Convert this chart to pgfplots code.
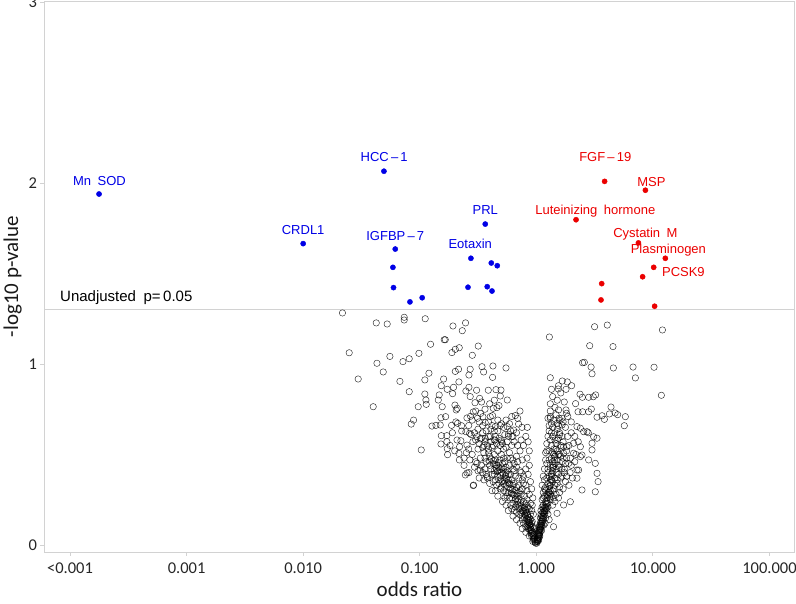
\documentclass[border=0pt]{standalone}
\usepackage{pgfplots}
\pgfplotsset{compat=1.18}
\usepackage{pgfplotstable}
\usepackage{fontspec}
\setmainfont{Liberation Sans}
\newfontfamily\tickfont{Carlito}
\definecolor{sigblue}{RGB}{0,0,230}
\definecolor{sigred}{RGB}{235,0,0}
\definecolor{axgrey}{RGB}{210,210,210}

% x = log10(odds ratio), y = -log10 p
\pgfplotstableread{
x y
-1.663 1.282
-1.373 1.227
-1.279 1.221
-1.133 1.258
-1.133 1.243
-0.953 1.250
-0.715 1.210
-0.607 1.227
-0.635 1.184
-0.790 1.134
-0.781 1.134
-0.907 1.109
-1.605 1.062
-1.256 1.042
-1.367 1.004
-1.144 1.013
-1.090 1.029
-1.007 1.059
-0.724 1.063
-0.695 1.081
-0.661 1.090
-0.549 1.048
-0.498 1.099
-1.528 0.917
-1.313 0.956
-1.170 0.904
-1.090 0.847
-0.956 0.912
-0.921 0.949
-0.695 0.959
-0.667 0.971
-0.578 0.939
-0.567 0.971
-0.466 0.985
-0.452 0.956
-0.372 0.989
-0.260 0.978
-1.399 0.764
-1.013 0.764
-0.947 0.801
-0.944 0.777
-0.956 0.834
-0.833 0.829
-0.841 0.801
-0.815 0.880
-0.795 0.917
-0.764 0.860
-0.710 0.871
-0.718 0.836
-0.664 0.901
-0.578 0.871
-0.604 0.851
-0.567 0.820
-0.512 0.855
-0.526 0.786
-0.486 0.810
-0.412 0.855
-0.375 0.926
-0.346 0.858
-0.303 0.856
-0.309 0.823
-0.249 0.801
-0.369 0.755
-0.338 0.759
-1.053 0.690
-1.073 0.668
-0.807 0.764
-0.818 0.703
-0.778 0.709
-0.895 0.657
-0.861 0.661
-0.824 0.663
-0.987 0.525
-0.698 0.773
-0.678 0.755
-0.687 0.746
-0.727 0.661
-0.675 0.672
-0.641 0.659
-0.595 0.702
-0.564 0.711
-0.541 0.735
-0.504 0.700
-0.478 0.727
-0.458 0.709
-0.438 0.676
-0.395 0.709
-0.375 0.715
-0.352 0.654
-0.300 0.670
-0.249 0.654
-0.180 0.715
-0.152 0.668
-0.123 0.650
-0.077 0.650
-0.240 0.613
-0.209 0.599
-0.195 0.635
-0.815 0.604
-0.767 0.604
-0.818 0.558
-0.767 0.571
-0.764 0.532
-0.761 0.499
-0.658 0.543
-0.664 0.506
-0.604 0.626
-0.572 0.617
-0.647 0.576
-0.595 0.552
-0.544 0.571
-0.509 0.599
-0.481 0.586
-0.438 0.589
-0.395 0.599
-0.355 0.580
-0.300 0.580
-0.609 0.387
-0.578 0.400
-0.541 0.328
-0.423 0.378
-0.481 0.414
-0.509 0.451
-0.595 0.398
-0.538 0.331
-0.02 0.06
-0.03 0.07
-0.04 0.05
-0.05 0.08
-0.03 0.10
-0.06 0.11
-0.04 0.12
-0.07 0.09
-0.08 0.13
-0.05 0.14
-0.09 0.10
-0.10 0.15
-0.06 0.15
-0.02 0.09
-0.035 0.13
-0.11 0.12
-0.12 0.14
-0.07 0.14
-0.015 0.04
-0.025 0.03
-0.01 0.02
-0.005 0.01
-0.045 0.065
-0.055 0.10
-0.065 0.125
-0.05 0.17
-0.08 0.18
-0.10 0.17
-0.12 0.19
-0.07 0.21
-0.13 0.22
-0.15 0.20
-0.09 0.23
-0.11 0.24
-0.16 0.24
-0.06 0.20
-0.14 0.17
-0.18 0.21
-0.04 0.19
-0.20 0.23
-0.17 0.18
-0.10 0.21
-0.12 0.16
-0.08 0.25
-0.05 0.23
-0.22 0.22
-0.15 0.25
-0.13 0.18
-0.19 0.19
-0.09 0.19
-0.10 0.27
-0.13 0.28
-0.16 0.27
-0.18 0.30
-0.20 0.28
-0.22 0.31
-0.24 0.29
-0.12 0.31
-0.15 0.33
-0.19 0.34
-0.26 0.33
-0.28 0.30
-0.08 0.30
-0.21 0.26
-0.25 0.27
-0.30 0.32
-0.17 0.32
-0.23 0.34
-0.06 0.28
-0.14 0.30
-0.32 0.34
-0.11 0.34
-0.27 0.26
-0.20 0.33
-0.35 0.30
-0.29 0.35
-0.09 0.33
-0.15 0.37
-0.18 0.38
-0.21 0.36
-0.24 0.39
-0.27 0.37
-0.30 0.40
-0.33 0.38
-0.36 0.41
-0.20 0.42
-0.23 0.44
-0.26 0.43
-0.29 0.45
-0.32 0.43
-0.38 0.39
-0.40 0.44
-0.13 0.40
-0.17 0.43
-0.35 0.36
-0.42 0.37
-0.11 0.38
-0.25 0.41
-0.31 0.36
-0.44 0.42
-0.19 0.45
-0.09 0.42
-0.37 0.45
-0.28 0.42
-0.46 0.40
-0.22 0.39
-0.34 0.44
-0.20 0.47
-0.25 0.48
-0.30 0.50
-0.35 0.47
-0.40 0.49
-0.45 0.51
-0.28 0.53
-0.33 0.52
-0.38 0.54
-0.43 0.46
-0.48 0.48
-0.50 0.53
-0.23 0.51
-0.17 0.49
-0.14 0.52
-0.42 0.55
-0.36 0.50
-0.27 0.46
-0.55 0.50
-0.52 0.46
-0.31 0.55
-0.46 0.54
-0.12 0.47
-0.21 0.55
-0.58 0.53
-0.62 0.48
-0.60 0.51
-0.30 0.57
-0.36 0.58
-0.41 0.60
-0.46 0.62
-0.52 0.58
-0.27 0.61
-0.33 0.63
-0.39 0.64
-0.25 0.57
-0.44 0.57
-0.20 0.60
-0.17 0.62
-0.50 0.64
-0.56 0.61
-0.13 0.58
-0.35 0.60
-0.01 0.015
-0.02 0.035
-0.03 0.055
-0.04 0.075
-0.05 0.095
-0.06 0.085
-0.045 0.105
-0.07 0.115
-0.08 0.105
-0.085 0.145
-0.095 0.165
-0.11 0.185
-0.125 0.205
-0.135 0.235
-0.145 0.215
-0.16 0.225
-0.175 0.255
-0.165 0.285
-0.185 0.275
-0.205 0.305
-0.215 0.285
-0.235 0.315
-0.245 0.345
-0.225 0.335
-0.255 0.365
-0.275 0.355
-0.265 0.385
-0.285 0.395
-0.305 0.385
-0.315 0.415
-0.295 0.425
-0.335 0.405
-0.345 0.425
-0.325 0.455
-0.355 0.445
-0.365 0.465
-0.385 0.475
-0.405 0.465
-0.62 0.44
-0.66 0.47
-0.70 0.52
-0.68 0.58
-0.64 0.63
-0.72 0.62
-0.74 0.55
-0.69 0.68
-0.58 0.66
-0.55 0.69
-0.52 0.74
-0.49 0.68
-0.46 0.66
-0.43 0.63
-0.41 0.68
-0.38 0.66
-0.36 0.63
-0.33 0.69
-0.31 0.66
-0.28 0.65
-0.26 0.69
-0.23 0.67
-0.21 0.71
-0.16 0.70
-0.14 0.74
-0.44 0.75
-0.40 0.78
-0.36 0.80
-0.32 0.77
-0.47 0.79
-0.53 0.62
-0.49 0.56
-0.47 0.59
-0.45 0.55
-0.41 0.53
-0.39 0.57
-0.37 0.55
-0.34 0.56
-0.32 0.59
-0.29 0.56
-0.26 0.54
-0.24 0.60
-0.22 0.63
-0.19 0.57
-0.16 0.55
-0.11 0.55
-0.09 0.60
-0.07 0.57
-0.06 0.52
-0.08 0.48
-0.06 0.44
-0.07 0.39
-0.05 0.35
-0.04 0.31
-0.03 0.26
-0.035 0.22
-0.025 0.17
-0.57 0.47
-0.53 0.43
-0.50 0.41
-0.47 0.44
-0.44 0.48
-0.41 0.51
-0.39 0.42
-0.36 0.39
-0.33 0.41
-0.31 0.47
-0.28 0.48
-0.26 0.40
-0.24 0.36
-0.22 0.48
-0.19 0.41
-0.16 0.46
-0.14 0.41
-0.12 0.36
-0.15 0.29
-0.18 0.25
-0.21 0.20
-0.23 0.26
-0.26 0.29
-0.28 0.34
-0.31 0.31
-0.34 0.33
-0.37 0.35
-0.40 0.34
-0.43 0.39
-0.45 0.36
-0.49 0.37
-0.38 0.30
-0.33 0.27
-0.29 0.24
-0.26 0.22
-0.24 0.19
-0.20 0.16
-0.17 0.14
-0.14 0.12
-0.12 0.09
-0.09 0.07
-0.06 0.05
-0.03 0.02
-0.012 0.03
-0.022 0.05
-0.028 0.045
-0.038 0.065
-0.042 0.085
-0.052 0.115
-0.058 0.125
-0.062 0.135
-0.072 0.155
-0.076 0.165
-0.088 0.175
-0.092 0.195
-0.105 0.205
0.500 1.206
0.609 1.215
1.082 1.188
0.112 1.149
0.458 1.101
0.658 1.096
0.397 1.007
0.412 1.009
0.470 0.983
0.478 0.946
0.661 0.978
0.830 0.983
1.010 0.982
0.850 0.923
0.120 0.924
0.223 0.906
0.266 0.901
0.303 0.880
0.189 0.862
0.255 0.860
1.073 0.827
0.375 0.833
0.395 0.816
0.449 0.816
0.489 0.819
0.509 0.829
0.337 0.781
0.120 0.740
0.120 0.709
0.191 0.746
0.255 0.746
0.260 0.728
0.358 0.736
0.397 0.736
0.449 0.736
0.472 0.751
0.641 0.762
0.521 0.706
0.564 0.714
0.584 0.694
0.627 0.724
0.676 0.729
0.698 0.720
0.764 0.709
0.195 0.700
0.203 0.687
0.178 0.672
0.221 0.663
0.755 0.659
0.349 0.654
0.378 0.645
0.406 0.626
0.446 0.620
0.492 0.598
0.521 0.590
0.478 0.525
0.449 0.470
0.506 0.451
0.521 0.396
0.530 0.350
0.506 0.294
0.392 0.304
0.349 0.369
0.363 0.414
0.292 0.239
0.234 0.221
0.178 0.175
0.148 0.101
0.320 0.562
0.378 0.543
0.320 0.507
0.392 0.497
0.292 0.479
0.234 0.543
0.435 0.626
0.478 0.562
0.378 0.488
0.263 0.543
0.235 0.506
0.278 0.451
0.349 0.414
0.19 0.66
0.20 0.62
0.22 0.60
0.18 0.58
0.21 0.55
0.17 0.53
0.005 0.01
0.01 0.02
0.015 0.03
0.02 0.05
0.01 0.04
0.025 0.06
0.03 0.08
0.02 0.07
0.035 0.09
0.04 0.10
0.015 0.06
0.03 0.05
0.045 0.08
0.008 0.03
0.03 0.11
0.04 0.13
0.05 0.12
0.06 0.14
0.045 0.16
0.055 0.18
0.07 0.17
0.08 0.15
0.06 0.20
0.09 0.19
0.035 0.15
0.10 0.17
0.075 0.12
0.05 0.15
0.065 0.11
0.11 0.14
0.085 0.20
0.04 0.19
0.06 0.22
0.08 0.24
0.10 0.23
0.12 0.25
0.07 0.27
0.09 0.28
0.11 0.29
0.13 0.27
0.15 0.26
0.05 0.25
0.14 0.22
0.17 0.28
0.10 0.21
0.12 0.30
0.08 0.30
0.16 0.24
0.06 0.29
0.19 0.26
0.115 0.265
0.08 0.32
0.10 0.34
0.12 0.33
0.14 0.35
0.09 0.37
0.11 0.38
0.13 0.39
0.16 0.37
0.18 0.34
0.20 0.32
0.07 0.36
0.15 0.31
0.22 0.38
0.17 0.40
0.10 0.40
0.25 0.35
0.13 0.36
0.19 0.39
0.28 0.33
0.24 0.40
0.10 0.42
0.12 0.44
0.14 0.43
0.16 0.45
0.11 0.47
0.13 0.48
0.15 0.50
0.18 0.47
0.20 0.43
0.22 0.46
0.09 0.45
0.17 0.42
0.26 0.48
0.19 0.50
0.14 0.46
0.30 0.44
0.24 0.42
0.21 0.49
0.11 0.52
0.13 0.55
0.15 0.53
0.17 0.56
0.12 0.58
0.14 0.60
0.16 0.62
0.19 0.59
0.21 0.54
0.10 0.60
0.18 0.64
0.23 0.57
0.14 0.65
0.11 0.63
0.20 0.61
0.26 0.52
0.27 0.60
0.16 0.58
0.13 0.67
0.15 0.69
0.17 0.72
0.12 0.78
0.22 0.70
0.16 0.76
0.14 0.82
0.18 0.80
0.13 0.86
0.19 0.88
0.21 0.84
0.24 0.79
0.10 0.70
0.012 0.025
0.018 0.045
0.025 0.040
0.022 0.065
0.028 0.085
0.033 0.070
0.038 0.105
0.042 0.120
0.048 0.140
0.052 0.130
0.058 0.160
0.062 0.175
0.068 0.190
0.072 0.210
0.078 0.205
0.082 0.225
0.088 0.245
0.092 0.260
0.098 0.275
0.105 0.290
0.108 0.310
0.115 0.325
0.118 0.345
0.125 0.360
0.128 0.380
0.135 0.395
0.138 0.410
0.145 0.430
0.148 0.440
0.155 0.470
0.158 0.490
0.05 0.33
0.06 0.38
0.07 0.42
0.08 0.47
0.09 0.52
0.07 0.31
0.06 0.26
0.05 0.21
0.04 0.17
0.035 0.12
0.025 0.10
0.02 0.08
0.14 0.51
0.16 0.49
0.18 0.52
0.20 0.50
0.23 0.48
0.25 0.45
0.22 0.42
0.19 0.44
0.21 0.37
0.18 0.36
0.16 0.33
0.14 0.30
0.12 0.28
0.20 0.29
0.23 0.31
0.26 0.38
0.29 0.40
0.31 0.37
0.33 0.46
0.28 0.55
0.30 0.62
0.25 0.65
0.23 0.68
0.27 0.71
0.30 0.68
0.33 0.60
0.36 0.57
0.34 0.50
0.12 0.70
0.11 0.66
0.13 0.62
0.09 0.56
0.08 0.51
0.006 0.02
0.014 0.035
0.02 0.025
0.027 0.055
0.032 0.095
0.036 0.085
0.044 0.11
0.05 0.105
0.056 0.145
0.064 0.155
0.07 0.185
0.076 0.19
0.084 0.21
0.09 0.23
}\greydata

\pgfplotstableread{
x y
-3.751 1.939
-2.000 1.665
-1.307 2.065
-1.210 1.635
-1.230 1.534
-1.225 1.422
-1.084 1.343
-0.979 1.366
-0.438 1.773
-0.561 1.584
-0.386 1.558
-0.335 1.543
-0.586 1.424
-0.421 1.427
-0.380 1.403
}\bluedata

\pgfplotstableread{
x y
0.586 2.009
0.936 1.960
0.341 1.797
0.876 1.669
1.107 1.584
1.007 1.534
0.912 1.482
0.561 1.444
0.555 1.354
1.015 1.319
}\reddata

\begin{document}
\begin{tikzpicture}
\begin{axis}[
  at={(0,0)}, anchor=south west,
  scale only axis, width=750pt, height=551pt,
  xmin=-4.219, xmax=2.215, ymin=-0.0387, ymax=3.0055,
  axis line style={axgrey, line width=0.8pt},
  xtick={-4,-3,-2,-1,0,1,2},
  xticklabels={<0.001,0.001,0.010,0.100,1.000,10.000,100.000},
  ytick={0,1,2,3}, yticklabels={0,1,2,3},
  xtick pos=lower, ytick pos=left,
  tick align=outside, major tick length=4pt,
  tick style={axgrey, line width=0.8pt},
  ticklabel style={font=\tickfont\fontsize{16.5}{19}\selectfont, text=black!85},
  xticklabel style={yshift=-6pt, inner sep=1pt},
  xlabel={odds ratio}, ylabel={-log10 p-value},
  label style={font=\tickfont\fontsize{21}{25}\selectfont, text=black!90},
  xlabel style={inner sep=0pt, yshift=-7pt},
  ylabel style={yshift=0pt},
]
\addplot[axgrey, line width=0.9pt] coordinates {(-4.219,1.301) (2.215,1.301)};
\addplot[only marks, mark=o, mark size=3.2pt,
  mark options={line width=0.45pt, draw=black, draw opacity=0.85}] table {\greydata};
\addplot[only marks, mark=*, mark size=2.6pt, sigblue] table {\bluedata};
\addplot[only marks, mark=*, mark size=2.6pt, sigred] table {\reddata};

\begin{scope}[every node/.style={font=\fontsize{13}{15}\selectfont, inner sep=0pt}]
\node[sigblue] at (axis cs:-3.747,2.011) {Mn\enspace SOD};
\node[sigblue] at (axis cs:-2.000,1.740) {CRDL1};
\node[sigblue] at (axis cs:-1.305,2.144) {HCC\,–\,1};
\node[sigblue] at (axis cs:-1.210,1.707) {IGFBP\,–\,7};
\node[sigblue] at (axis cs:-0.438,1.851) {PRL};
\node[sigblue] at (axis cs:-0.567,1.663) {Eotaxin};
\node[sigred] at (axis cs:0.592,2.144) {FGF\,–\,19};
\node[sigred] at (axis cs:0.987,2.006) {MSP};
\node[sigred] at (axis cs:0.506,1.845) {Luteinizing\enspace hormone};
\node[sigred] at (axis cs:0.936,1.718) {Cystatin\enspace M};
\node[sigred] at (axis cs:1.133,1.630) {Plasminogen};
\node[sigred] at (axis cs:1.262,1.508) {PCSK9};
\node[black, anchor=west, font=\fontsize{15}{17}\selectfont] at (axis cs:-4.086,1.365) {Unadjusted\enspace p=\,0.05};
\end{scope}
\end{axis}
\pgfresetboundingbox
\path[use as bounding box] (-44.5pt,-52pt) rectangle (751.5pt,552pt);
\end{tikzpicture}
\end{document}
